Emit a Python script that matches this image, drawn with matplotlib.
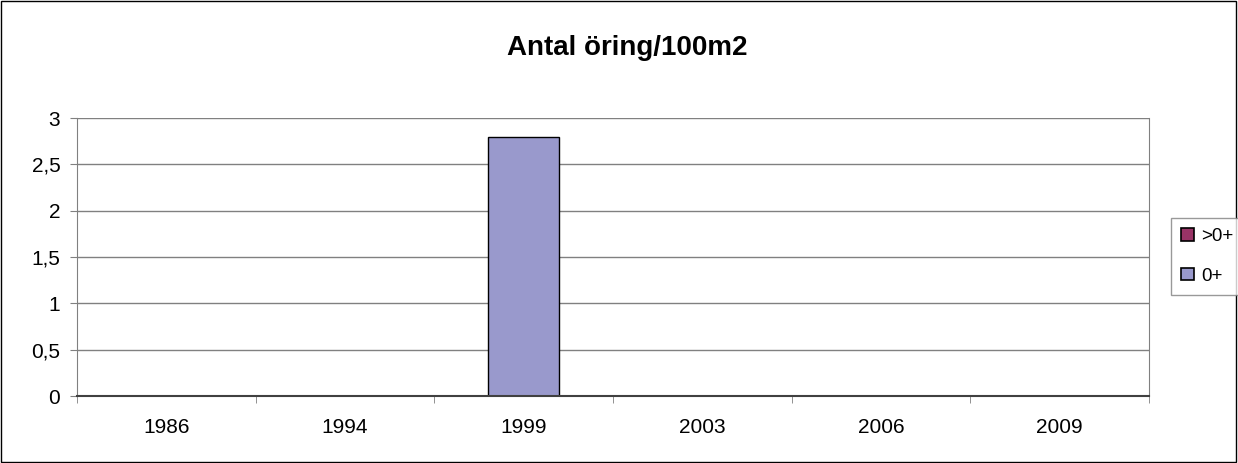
import numpy as np
import matplotlib.pyplot as plt
from matplotlib.ticker import FuncFormatter

years = ["1986", "1994", "1999", "2003", "2006", "2009"]
ung = [0, 0, 2.8, 0, 0, 0]      # 0+
aldre = [0, 0, 0, 0, 0, 0]      # >0+

plt.rcParams["font.family"] = ["Liberation Sans", "DejaVu Sans"]

fig = plt.figure(figsize=(12.38, 4.63), dpi=100)
ax = fig.add_axes([0.0622, 0.1447, 0.866, 0.6004])

x = np.arange(len(years))
# nollstaplar ritas utan kant
lw1 = [1 if v > 0 else 0 for v in ung]
lw2 = [1 if v > 0 else 0 for v in aldre]
b1 = ax.bar(x, ung, width=0.4, color="#9999CC", edgecolor="black", linewidth=lw1, label="0+", zorder=3)
b2 = ax.bar(x, aldre, width=0.4, bottom=ung, color="#993366", edgecolor="black", linewidth=lw2, label=">0+", zorder=3)

ax.set_xlim(-0.5, len(years) - 0.5)
ax.set_ylim(0, 3)
ax.set_yticks(np.arange(0, 3.01, 0.5))
ax.yaxis.set_major_formatter(FuncFormatter(lambda v, p: f"{v:g}".replace(".", ",")))
ax.set_xticks(x)
ax.set_xticklabels(years)
ax.set_xticks(np.arange(-0.5, len(years)), minor=True)
ax.tick_params(axis="x", which="major", length=0, pad=16, labelsize=15)
ax.tick_params(axis="x", which="minor", length=5, color="#808080", direction="out")
ax.tick_params(axis="y", length=5, color="#808080", labelsize=15, pad=7)
ax.yaxis.grid(True, color="#808080", linewidth=1, zorder=0)
ax.set_axisbelow(True)
ax.spines["top"].set_visible(False)
ax.spines["left"].set_color("#808080")
ax.spines["right"].set_color("#808080")
ax.spines["bottom"].set_color("#404040")
ax.spines["bottom"].set_linewidth(1.5)
ax.spines["bottom"].set_zorder(4)

fig.text(0.5065, 0.896, "Antal öring/100m2", ha="center", va="center", fontsize=20, fontweight="bold")

h1 = plt.Rectangle((0, 0), 1, 1, facecolor="#993366", edgecolor="black", linewidth=1.2)
h2 = plt.Rectangle((0, 0), 1, 1, facecolor="#9999CC", edgecolor="black", linewidth=1.2)
leg = fig.legend(handles=[h1, h2], labels=[">0+", "0+"], loc="upper left",
                 bbox_to_anchor=(0.9459, 0.5292), frameon=True, fancybox=False,
                 edgecolor="#808080", fontsize=13.5, handlelength=0.65, handleheight=0.65,
                 handletextpad=0.43, borderpad=0.55, labelspacing=1.2, borderaxespad=0)
leg.get_frame().set_linewidth(1)

fig.patches.append(plt.Rectangle((0.001, 0.002), 0.997, 0.996, transform=fig.transFigure,
                                 fill=False, edgecolor="black", linewidth=1))

fig.savefig("out.png", dpi=100)
